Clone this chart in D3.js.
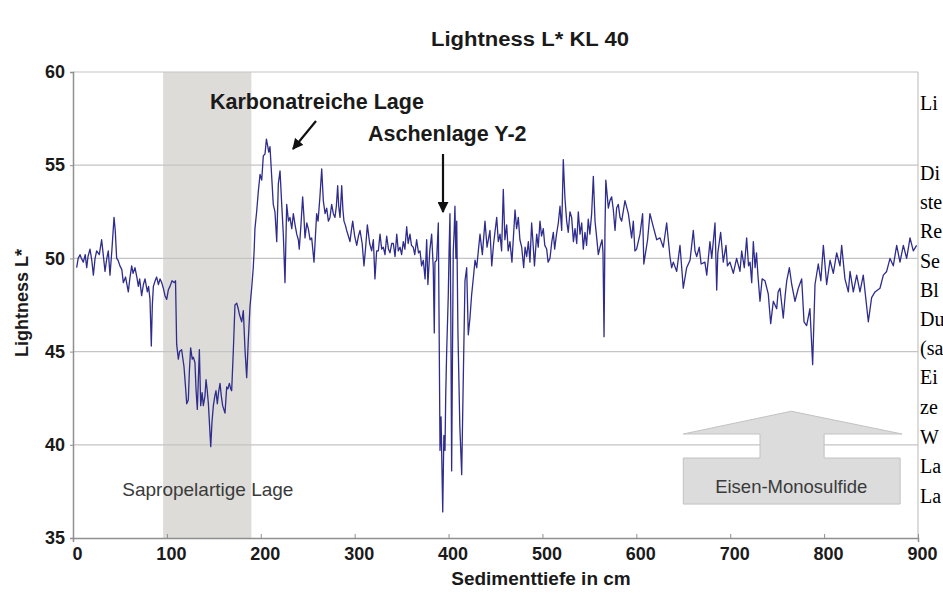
<!DOCTYPE html>
<html><head><meta charset="utf-8">
<script src="https://cdn.jsdelivr.net/npm/d3@7"></script>
<style>body{margin:0;background:#fff}svg{display:block}</style>
</head><body>
<svg id="c" width="943" height="594"></svg>
<script>
const title = "Lightness L* KL 40";
const xLabel = "Sedimenttiefe in cm";
const yLabel = "Lightness L*";
const xTicks = [0,100,200,300,400,500,600,700,800,900];
const yTicks = [35,40,45,50,55,60];
const sapropelBand = [96,190];
const sapropelLabel = "Sapropelartige Lage";
const carbLabel = "Karbonatreiche Lage";
const ashLabel = "Aschenlage Y-2";
const sulfideLabel = "Eisen-Monosulfide";
const sideText = ["Li","Di","ste","Re","Se","Bl","Du","(sa","Ei","ze","W","La","La"];
// [depth cm, L*]
const series = [
[3.9,49.5],[5.5,50.0],[7.5,50.2],[9,50.0],[11,49.8],[13,50.2],[14.6,49.5],[16,50.1],[18.1,50.5],[20,49.9],
[21.7,49.1],[23.5,50.0],[25.2,50.4],[28,50.2],[30.5,51.0],[32,50.3],[34.1,49.3],[36,50.0],[37.6,50.4],[39.4,49.1],
[41.5,50.5],[43.7,52.2],[45,51.5],[46.5,50.0],[48,49.9],[50,49.6],[52,49.4],[53.6,48.7],[56,49.0],[58.9,48.2],
[60.5,48.9],[62.5,49.6],[64,49.2],[66,49.5],[68,49.0],[69.6,48.5],[71,48.9],[73.1,48.0],[75,48.6],[76.7,48.9],
[79.2,48.2],[80.5,48.5],[82,47.8],[83.4,45.3],[84.5,47.5],[85.6,48.5],[87.5,48.8],[89.1,49.0],[91,48.6],[92.7,48.9],
[94.5,48.7],[96.2,48.4],[98,48.0],[99.8,47.8],[101.5,48.3],[103.3,48.5],[105.5,48.8],[107.9,48.7],[109.2,48.8],[110.4,45.4],
[112.2,44.6],[113.5,45.0],[115.7,45.1],[118.2,44.2],[120,43.0],[121.1,42.2],[122.8,42.4],[124,44.0],[125.3,45.2],[127,44.6],
[128.2,44.7],[129.9,44.4],[131,43.0],[132.4,41.9],[133.5,43.5],[134.6,45.1],[136,42.1],[137.5,42.8],[138.8,42.1],[140.5,42.6],
[141.7,43.5],[143,42.9],[144.2,42.2],[145.5,41.0],[146.7,39.9],[148,41.2],[149.5,42.1],[151,42.6],[152.3,42.9],[153.7,42.2],
[155,42.8],[156.6,43.3],[158,42.6],[159.4,42.1],[161.9,41.7],[163.7,43.1],[165,43.0],[166.5,43.3],[168,43.0],[169,42.9],
[170.8,45.1],[172.5,47.5],[174.4,47.6],[176,47.3],[177.2,47.0],[179.7,46.6],[181.4,47.2],[183.2,45.1],[185,43.6],[186.7,45.6],
[188.5,47.4],[190.3,48.4],[192,49.5],[193,50.5],[193.8,51.6],[195.6,52.5],[197.4,53.6],[199.2,54.5],[201,54.2],[202.7,55.5],
[204.5,55.6],[206,56.4],[207.5,56.0],[208.5,55.7],[209.8,56.0],[211.5,54.5],[213.3,52.9],[215.1,52.5],[217,50.9],[218.7,54.0],
[220.5,54.7],[222.3,52.9],[224,51.3],[225.8,48.7],[227.6,52.9],[229.5,52.0],[231.1,52.2],[233,51.6],[234.7,52.4],[236.5,51.8],
[238.3,51.3],[240,51.0],[241,50.5],[242.8,51.8],[244.6,53.3],[246,52.2],[247.1,51.1],[249,51.9],[250.6,51.6],[252.5,51.0],
[254.2,51.1],[256.7,49.8],[258,51.0],[259.5,52.4],[261,52.0],[263,53.3],[264.9,54.8],[266.6,53.1],[268.5,52.4],[270.2,52.7],
[272,52.0],[273.7,52.2],[275.5,52.9],[277.3,52.4],[279,52.2],[280.5,52.8],[281.9,53.9],[283,52.8],[284.4,52.2],[286.2,53.9],
[287.5,52.6],[288.6,52.0],[290,51.8],[291.5,51.5],[293.3,51.2],[295,50.9],[296.5,51.5],[297.9,52.0],[300,51.2],[302.2,50.7],
[304,51.2],[305.7,51.5],[308,50.8],[309.9,49.6],[311.7,50.6],[313.5,51.8],[316,50.8],[318.1,50.4],[319.9,51.0],[321.6,48.9],
[323.4,50.4],[325.2,50.4],[327,51.3],[328.8,50.5],[330.5,50.6],[332.3,50.2],[334.1,51.2],[336,50.5],[337.6,50.3],[339.5,50.8],
[341.2,50.8],[343,50.1],[344.8,51.3],[346.5,50.4],[348.3,50.6],[350,50.2],[351.8,50.9],[353.5,50.5],[355.4,51.7],[357,50.8],
[358.9,51.3],[360.5,50.7],[362.4,50.6],[364,50.2],[366,51.0],[368,50.3],[369.6,50.4],[371.3,49.6],[373.1,49.9],[375,48.9],
[376.7,51.0],[378,48.6],[380,50.4],[382,51.3],[383.7,49.5],[384.8,46.0],[385.5,49.8],[387.3,49.9],[389.1,51.9],[390,46.0],
[390.9,39.7],[392,41.5],[393.8,36.4],[395,40.5],[396.2,39.7],[397,42.7],[398,45.0],[399.7,48.0],[400.6,50.5],[401.5,52.4],
[402.4,47.0],[403.3,38.6],[404.2,45.0],[405,50.4],[406,51.5],[406.8,52.8],[407.8,50.0],[408.7,52.0],[410,46.0],[412,41.0],
[414,38.4],[415.5,43.0],[417.5,48.8],[419.3,49.5],[421,45.9],[422.8,46.8],[424.5,48.0],[426.5,49.0],[428.2,49.9],[430,49.5],
[431.7,50.4],[433.5,51.3],[436,50.2],[438.8,52.0],[441,50.6],[444.1,51.5],[446,49.6],[448,50.8],[451.3,52.2],[453,50.9],
[454.8,51.3],[456.5,50.4],[458.3,53.7],[460,51.0],[461.9,51.8],[463.5,50.4],[465.4,50.9],[467.5,49.8],[470.8,52.6],[472.5,51.6],
[474.3,52.2],[476,51.0],[477.9,50.6],[480,49.5],[481.5,50.6],[483.2,50.1],[485,50.9],[486.7,49.8],[488.5,51.9],[490,50.8],
[491.5,49.6],[493.9,51.3],[495.5,50.6],[497.4,52.0],[499,51.2],[500.9,51.6],[502.5,50.7],[504.5,50.5],[506,49.8],[508,50.0],
[510,50.9],[511.6,51.4],[513,50.5],[515,51.3],[516.9,51.9],[518.7,52.8],[520.5,51.5],[522.2,55.3],[524,53.2],[525.8,52.0],
[527.5,51.4],[529.3,52.5],[531.1,52.2],[533,50.9],[534.7,51.6],[536.5,50.8],[538.2,52.5],[540,51.3],[541.8,51.9],[543.5,50.5],
[545.3,51.4],[547,50.7],[548.8,52.1],[550.5,51.3],[552.4,52.4],[554.2,54.4],[556,52.0],[557.8,51.1],[559.5,50.2],[561.3,50.6],
[563.5,51.0],[564.5,50.3],[565.6,45.8],[566.6,51.5],[567.5,54.2],[570.2,52.7],[571.9,53.1],[573.7,53.3],[575.5,52.6],[577.3,51.5],
[579,52.7],[580.8,52.9],[582.6,52.2],[584.4,52.0],[587.9,53.1],[591.5,52.4],[595,51.1],[596.8,52.0],[598.5,50.4],[600.3,50.5],
[603.9,51.3],[606.7,52.4],[608,49.7],[609.5,50.2],[612,51.0],[614.5,52.4],[618,51.7],[621.7,51.0],[625.2,51.1],[628.7,50.6],
[632.3,51.9],[635.8,50.1],[637.6,49.5],[639.4,49.8],[643,49.3],[646.5,50.7],[650,48.4],[653.6,49.5],[657.2,49.9],[660.7,51.5],
[662.5,50.4],[664.3,50.1],[667,50.6],[669,49.7],[673,49.8],[675,49.1],[678.4,50.9],[680.3,50.0],[683.8,51.9],[685.6,48.3],
[686.8,50.3],[689.8,51.4],[692.6,49.8],[695.5,50.7],[697,49.6],[699.7,49.8],[703.3,49.2],[706.8,50.0],[710.4,49.3],[712.2,50.4],
[715,49.5],[717.5,51.1],[719.5,49.6],[721.1,49.8],[722.9,48.7],[724.6,50.9],[726.5,49.5],[728,50.3],[729.5,49.1],[731.7,47.7],
[734,48.9],[737,48.8],[740.5,48.1],[743.1,46.5],[745.9,47.7],[749.5,47.3],[751,48.2],[753,48.4],[756.5,46.8],[758.5,48.0],
[760.2,48.8],[763,49.5],[765.5,48.6],[769,47.7],[772.5,48.4],[776.1,48.9],[778.6,46.6],[781.4,46.4],[784.9,47.3],[787.8,44.3],
[790.3,48.6],[793.8,49.7],[796.5,48.8],[799.2,50.7],[802.7,48.6],[806.3,49.9],[809.8,49.2],[813.4,50.3],[816.9,49.6],[818.7,50.7],
[822.2,48.9],[825.8,48.2],[827.6,49.3],[831.1,48.2],[834.7,49.1],[838.2,48.2],[841.7,49.1],[847.1,46.6],[850.6,47.9],[854.2,48.2],
[859.5,48.4],[863.1,49.1],[866.6,49.3],[870.2,50.0],[873.7,49.6],[877.3,50.7],[880.8,49.8],[884.4,50.7],[887.9,50.0],[891.5,51.1],
[895,50.4],[898.5,50.7]
];

const svg = d3.select("#c");
const W = 943, H = 594;
const m = {left:73, right:918, top:72, bottom:538};
const x = d3.scaleLinear().domain([0,900]).range([m.left, m.right]);
const y = d3.scaleLinear().domain([35,60]).range([m.bottom, m.top]);
const sans = "'Liberation Sans', Arial, Helvetica, sans-serif";

svg.append("rect").attr("width",W).attr("height",H).attr("fill","#fff");

svg.append("defs").append("clipPath").attr("id","plot")
  .append("rect").attr("x",m.left).attr("y",m.top).attr("width",m.right-m.left).attr("height",m.bottom-m.top);

// band
svg.append("rect")
  .attr("x", x(sapropelBand[0])).attr("y", m.top)
  .attr("width", x(sapropelBand[1]) - x(sapropelBand[0]))
  .attr("height", m.bottom - m.top)
  .attr("fill", "#dddcd8");

// gridlines
svg.append("g").selectAll("line").data(yTicks.filter(d=>d>35)).join("line")
  .attr("x1", m.left).attr("x2", m.right)
  .attr("y1", d=>y(d)).attr("y2", d=>y(d))
  .attr("stroke", "#c4c4c4").attr("stroke-width", 1.2);

svg.append("line").attr("x1",m.right).attr("x2",m.right).attr("y1",m.top).attr("y2",m.bottom)
  .attr("stroke","#c4c4c4").attr("stroke-width",1.2);

// Eisen-Monosulfide block arrow (data units)
const shape = [[765,41.8],[883,40.58],[800,40.58],[800,39.29],[881,39.29],[881,36.82],
               [650,36.82],[650,39.29],[731.7,39.29],[731.7,40.58],[650,40.58]];
svg.append("path")
  .attr("d", d3.line().x(d=>x(d[0])).y(d=>y(d[1]))(shape) + "Z")
  .attr("fill","#dcdcdc").attr("stroke","#c2c2c2").attr("stroke-width",1);
svg.append("text").attr("x", x(765)).attr("y", y(37.75)+6)
  .attr("text-anchor","middle").attr("font-family",sans).attr("font-size",18.5)
  .attr("fill","#3a3a3a").text(sulfideLabel);

svg.append("text").attr("x", x(52.5)).attr("y", y(37.6)+6)
  .attr("font-family",sans).attr("font-size",19).attr("fill","#3a3a3a").text(sapropelLabel);

// data line
const line = d3.line().x(d=>x(d[0])).y(d=>y(d[1]));
svg.append("path").datum(series)
  .attr("clip-path","url(#plot)")
  .attr("d", line)
  .attr("fill","none").attr("stroke","#2e2c8c").attr("stroke-width",1.3)
  .attr("stroke-linejoin","round");

// axes
const gx = svg.append("g").attr("transform",`translate(0,${m.bottom})`)
  .call(d3.axisBottom(x).tickValues(xTicks).tickSize(4).tickPadding(4));
gx.select(".domain").attr("stroke","#8f8f8f").attr("stroke-width",1.5);
gx.selectAll(".tick line").attr("stroke","#8f8f8f").attr("transform","translate(0,-4)");
gx.selectAll(".tick text").attr("font-family",sans).attr("font-size",18).attr("font-weight","bold")
  .attr("fill","#1a1a1a").attr("dx",4).attr("y",22).attr("dy",0);

const gy = svg.append("g").attr("transform",`translate(${m.left},0)`)
  .call(d3.axisLeft(y).tickValues(yTicks).tickSize(3).tickPadding(5));
gy.select(".domain").attr("stroke","#8f8f8f").attr("stroke-width",1.5);
gy.selectAll(".tick line").attr("stroke","#8f8f8f");
gy.selectAll(".tick text").attr("font-family",sans).attr("font-size",18).attr("font-weight","bold")
  .attr("fill","#1a1a1a");

// titles
svg.append("text").attr("x",530).attr("y",46).attr("text-anchor","middle")
  .attr("font-family",sans).attr("font-size",20).attr("font-weight","bold").attr("fill","#1a1a1a")
  .attr("textLength",198).attr("lengthAdjust","spacingAndGlyphs").text(title);
svg.append("text").attr("x",541).attr("y",585).attr("text-anchor","middle")
  .attr("font-family",sans).attr("font-size",19).attr("font-weight","bold").attr("fill","#1a1a1a").text(xLabel);
svg.append("text").attr("transform","translate(28,303) rotate(-90)").attr("text-anchor","middle")
  .attr("font-family",sans).attr("font-size",18).attr("font-weight","bold").attr("fill","#1a1a1a").text(yLabel);

// annotations
svg.append("defs").append("marker").attr("id","ah").attr("viewBox","0 0 10 10")
  .attr("refX",9).attr("refY",5).attr("markerWidth",5).attr("markerHeight",5).attr("orient","auto")
  .append("path").attr("d","M0,0L10,5L0,10Z").attr("fill","#111");

svg.append("text").attr("x",210).attr("y",109).attr("font-family",sans).attr("font-size",21.5)
  .attr("font-weight","bold").attr("fill","#1a1a1a").text(carbLabel);
svg.append("line").attr("x1",316).attr("y1",121).attr("x2",293).attr("y2",149)
  .attr("stroke","#111").attr("stroke-width",2.2).attr("marker-end","url(#ah)");

svg.append("text").attr("x",368).attr("y",141).attr("font-family",sans).attr("font-size",21.5)
  .attr("font-weight","bold").attr("fill","#1a1a1a").text(ashLabel);
svg.append("line").attr("x1",443).attr("y1",154).attr("x2",443).attr("y2",212)
  .attr("stroke","#111").attr("stroke-width",2.2).attr("marker-end","url(#ah)");

// side text fragments (overlapping document text)
const sideY = [103,173,202,231,261,290,319,348,377,407,437,466,496];
svg.append("g").selectAll("text").data(sideText).join("text")
  .attr("x",920).attr("y",(d,i)=>sideY[i]+7)
  .attr("font-family","'Liberation Serif','Times New Roman',serif").attr("font-size",20)
  .attr("fill","#000").text(d=>d);
</script>
</body></html>
